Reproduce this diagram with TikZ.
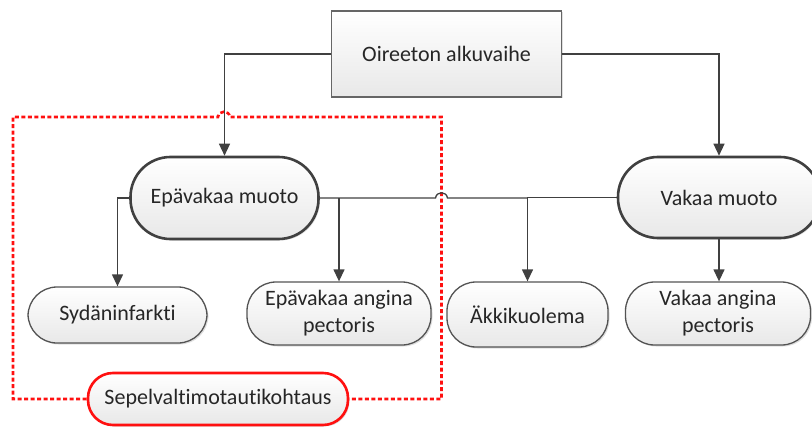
\documentclass[tikz,border=0pt]{standalone}
\usepackage{fontspec}
\setmainfont{Carlito}[Ligatures={NoCommon}]
\usetikzlibrary{arrows.meta,shadows}
\definecolor{txt}{HTML}{262626}
\definecolor{edge}{HTML}{404040}
\definecolor{redl}{HTML}{FF1010}
\tikzset{
  base/.style={text=txt, font=\fontsize{22}{27}\selectfont, align=center, inner sep=0pt,
    top color=white, bottom color=black!9,
    drop shadow={shadow xshift=1.5pt, shadow yshift=-1.5pt, opacity=0.25}},
  topbox/.style={base, rectangle, draw=edge!80, line width=1.3pt},
  bigbox/.style={base, rectangle, draw=edge, line width=2.6pt, rounded corners=40pt},
  smallbox/.style={base, rectangle, draw=edge!90, line width=1.3pt, rounded corners=29pt},
  redbox/.style={base, rectangle, draw=redl, line width=2.6pt, rounded corners=25pt},
  conn/.style={draw=edge, line width=1.3pt},
  arr/.style={conn, -{Triangle[width=11pt,length=12pt]}},
  reddash/.style={draw=redl, line width=2.6pt, dash pattern=on 4pt off 2.5pt}
}
\begin{document}
\begin{tikzpicture}[x=1pt,y=-1pt]
\useasboundingbox (0,0) rectangle (812,428);
% nodes
\node[topbox, minimum width=230pt, minimum height=86pt] (top) at (446.5,54) {Oireeton alkuvaihe};
\node[bigbox, minimum width=188pt, minimum height=82pt] (epa) at (224.5,198) {Epävakaa muoto};
\node[bigbox, minimum width=202pt, minimum height=81pt] (vak) at (719,197.5) {Vakaa muoto};
\node[smallbox, minimum width=179pt, minimum height=56pt] (syd) at (117.5,315) {Sydäninfarkti};
\node[smallbox, minimum width=184pt, minimum height=63pt] (eap) at (339,313.5) {Epävakaa angina\\pectoris};
\node[smallbox, minimum width=161pt, minimum height=65pt] (akk) at (527.5,314.5) {Äkkikuolema};
\node[smallbox, minimum width=185pt, minimum height=63pt] (vap) at (718,313.5) {Vakaa angina\\pectoris};
\node[redbox, minimum width=260pt, minimum height=52pt] (sep) at (218,399) {Sepelvaltimotautikohtaus};
% red dashed group outline
\coordinate (rtl) at (13,117);
\coordinate (rtr) at (441.5,117);
\draw[reddash] (sep.west) -- (rtl |- sep.west) -- (rtl) -- (218,117)
  .. controls (219,110) and (229,110) .. (230,117) -- (rtr) -- (rtr |- sep.east) -- (sep.east);
% connectors
\draw[arr] (top.west) -| (epa.north);
\draw[arr] (top.east) -| (vak.north);
\draw[arr] (epa.west) -| (syd.north);
\draw[arr] (epa.east -| eap.north) -- (eap.north);
\draw[conn] (epa.east) -- (435.5,198) .. controls (436.5,191) and (446.5,191) .. (447.5,198) -- (akk.north |- epa.east);
\draw[arr] (vak.west) -| (akk.north);
\draw[arr] (vak.south) -- (vap.north -| vak.south);
\end{tikzpicture}
\end{document}
